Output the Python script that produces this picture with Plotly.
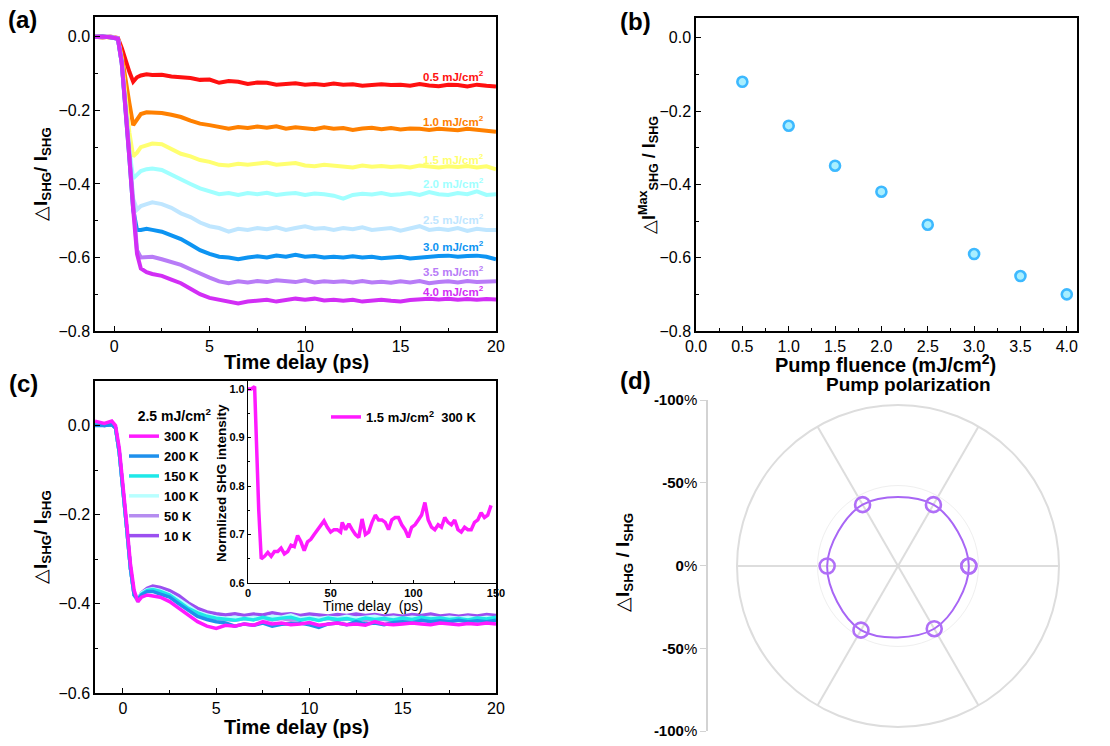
import plotly.graph_objects as go

W, H = 1110, 746
def px(x): return x / W
def py(y): return 1 - y / H

FONT = "Liberation Sans, Arial, sans-serif"

# ---------------- Panel (a) data ----------------
t_a = [-1.0, -0.6, -0.2, 0.2, 0.4, 0.6, 0.8, 1.0, 1.2, 1.4, 1.7,
       2.0, 2.5, 3.0, 3.5, 4.0, 4.5, 5.0, 5.5, 6.0, 6.5, 7.0, 7.5, 8.0, 8.5, 9.0, 9.5,
       10.0, 10.5, 11.0, 11.5, 12.0, 12.5, 13.0, 13.5, 14.0, 14.5, 15.0, 15.5, 16.0,
       16.5, 17.0, 17.5, 18.0, 18.5, 19.0, 19.5, 20.0]
f05 = [0.0, -0.002, 0.001, -0.003, -0.03, -0.065, -0.095, -0.122, -0.11, -0.105, -0.102,
       -0.104, -0.103, -0.108, -0.11, -0.112, -0.117, -0.116, -0.125, -0.12, -0.122, -0.128, -0.124,
       -0.125, -0.13, -0.127, -0.126, -0.13, -0.128, -0.131, -0.127, -0.13, -0.129, -0.133, -0.13,
       -0.129, -0.131, -0.13, -0.133, -0.128, -0.132, -0.134, -0.13, -0.131, -0.135, -0.13, -0.133, -0.135]
f10 = [0.0, 0.001, -0.002, -0.004, -0.05, -0.12, -0.18, -0.24, -0.225, -0.21, -0.205,
       -0.205, -0.207, -0.212, -0.218, -0.228, -0.236, -0.24, -0.245, -0.25, -0.245, -0.248, -0.244,
       -0.247, -0.243, -0.25, -0.246, -0.248, -0.251, -0.246, -0.25, -0.248, -0.253, -0.249, -0.247,
       -0.251, -0.248, -0.252, -0.249, -0.25, -0.253, -0.25, -0.251, -0.254, -0.25, -0.252, -0.255, -0.258]
f15 = [0.0, -0.001, 0.0, -0.004, -0.06, -0.16, -0.26, -0.325, -0.315, -0.3, -0.295,
       -0.29, -0.292, -0.305, -0.318, -0.325, -0.335, -0.34, -0.348, -0.35, -0.345, -0.348, -0.345,
       -0.342, -0.348, -0.345, -0.343, -0.35, -0.352, -0.348, -0.35, -0.352, -0.355, -0.35, -0.353,
       -0.351, -0.354, -0.352, -0.355, -0.35, -0.353, -0.355, -0.352, -0.354, -0.351, -0.355, -0.352, -0.36]
f20 = [0.0, 0.001, -0.001, -0.005, -0.07, -0.18, -0.31, -0.385, -0.375, -0.365, -0.36,
       -0.358, -0.362, -0.375, -0.39, -0.4, -0.412, -0.42, -0.428, -0.425, -0.43, -0.425, -0.428,
       -0.424, -0.43, -0.427, -0.425, -0.43, -0.426, -0.428, -0.432, -0.44, -0.43, -0.427, -0.429,
       -0.425, -0.43, -0.428, -0.425, -0.43, -0.422, -0.428, -0.43, -0.425, -0.428, -0.42, -0.43, -0.428]
f25 = [0.0, -0.001, 0.001, -0.005, -0.07, -0.19, -0.33, -0.44, -0.47, -0.46, -0.455,
       -0.45, -0.455, -0.465, -0.48, -0.49, -0.505, -0.515, -0.52, -0.53, -0.522, -0.525, -0.52,
       -0.523, -0.518, -0.525, -0.52, -0.515, -0.522, -0.52, -0.525, -0.52, -0.523, -0.518, -0.525,
       -0.522, -0.52, -0.527, -0.52, -0.515, -0.525, -0.522, -0.525, -0.52, -0.528, -0.522, -0.525, -0.525]
f30 = [0.0, 0.001, -0.001, -0.005, -0.07, -0.19, -0.33, -0.47, -0.525, -0.525, -0.522,
       -0.525, -0.53, -0.54, -0.55, -0.565, -0.58, -0.59, -0.598, -0.6, -0.605, -0.6, -0.597,
       -0.6, -0.595, -0.598, -0.593, -0.598, -0.596, -0.6, -0.598, -0.6, -0.597, -0.6, -0.598,
       -0.602, -0.6, -0.598, -0.603, -0.6, -0.598, -0.596, -0.595, -0.598, -0.596, -0.595, -0.598, -0.605]
f35 = [0.0, -0.001, 0.0, -0.005, -0.07, -0.19, -0.33, -0.47, -0.58, -0.6, -0.6,
       -0.598, -0.605, -0.612, -0.62, -0.632, -0.645, -0.655, -0.665, -0.67, -0.665, -0.668, -0.664,
       -0.667, -0.662, -0.665, -0.667, -0.662, -0.668, -0.665, -0.667, -0.665, -0.668, -0.664, -0.668,
       -0.666, -0.669, -0.665, -0.668, -0.664, -0.67, -0.667, -0.665, -0.668, -0.664, -0.667, -0.665, -0.665]
f40 = [0.0, 0.001, -0.001, -0.005, -0.07, -0.19, -0.33, -0.47, -0.59, -0.63, -0.64,
       -0.645, -0.65, -0.66, -0.67, -0.685, -0.7, -0.71, -0.715, -0.72, -0.725, -0.72, -0.718,
       -0.715, -0.72, -0.717, -0.712, -0.715, -0.712, -0.717, -0.715, -0.718, -0.715, -0.72, -0.717,
       -0.715, -0.718, -0.72, -0.716, -0.714, -0.712, -0.714, -0.712, -0.715, -0.713, -0.715, -0.713, -0.714]
fluence_labels = ["0.5", "1.0", "1.5", "2.0", "2.5", "3.0", "3.5", "4.0"]
fluence_curves = [f05, f10, f15, f20, f25, f30, f35, f40]
fluence_colors = ["#ff1010", "#ff8000", "#ffff70", "#a0ffff", "#bfe6ff", "#0d94f2", "#b87cf7", "#d22ef5"]
label_y = [-0.107, -0.229, -0.331, -0.397, -0.496, -0.570, -0.637, -0.692]

# ---------------- Panel (b) data ----------------
pump_fluence = [0.5, 1.0, 1.5, 2.0, 2.5, 3.0, 3.5, 4.0]
dI_max = [-0.12, -0.24, -0.349, -0.42, -0.51, -0.59, -0.65, -0.70]

# ---------------- Panel (c) data ----------------
t_c = [-1.5, -1.0, -0.6, -0.4, -0.2, 0.0, 0.2, 0.4, 0.6, 0.8, 1.0, 1.3, 1.6, 2.0,
       2.5, 3.0, 3.5, 4.0, 4.5, 5.0, 5.5, 6.0, 6.5, 7.0, 7.5, 8.0, 8.5, 9.0, 9.5, 10.0,
       10.5, 11.0, 11.5, 12.0, 12.5, 13.0, 13.5, 14.0, 14.5, 15.0, 15.5, 16.0, 16.5,
       17.0, 17.5, 18.0, 18.5, 19.0, 19.5, 20.0]
k300 = [0.01, 0.005, 0.01, 0.0, -0.05, -0.13, -0.22, -0.31, -0.37, -0.395, -0.385, -0.38, -0.382, -0.385,
        -0.395, -0.41, -0.425, -0.44, -0.45, -0.455, -0.448, -0.45, -0.445, -0.448, -0.44, -0.445,
        -0.443, -0.447, -0.445, -0.442, -0.448, -0.445, -0.443, -0.447, -0.445, -0.448, -0.44, -0.445,
        -0.447, -0.445, -0.443, -0.445, -0.447, -0.443, -0.445, -0.447, -0.444, -0.446, -0.443, -0.445]
k200 = [0.0, 0.0, 0.002, -0.005, -0.06, -0.14, -0.23, -0.32, -0.38, -0.39, -0.38, -0.372, -0.372, -0.378,
        -0.385, -0.4, -0.415, -0.428, -0.435, -0.44, -0.443, -0.45, -0.445, -0.448, -0.443, -0.45,
        -0.446, -0.445, -0.443, -0.447, -0.453, -0.445, -0.443, -0.447, -0.44, -0.445, -0.443, -0.447,
        -0.442, -0.44, -0.443, -0.437, -0.44, -0.438, -0.44, -0.437, -0.44, -0.438, -0.44, -0.437]
k150 = [0.005, 0.0, 0.003, -0.005, -0.06, -0.14, -0.23, -0.32, -0.38, -0.39, -0.378, -0.37, -0.368, -0.372,
        -0.38, -0.395, -0.41, -0.42, -0.428, -0.432, -0.435, -0.437, -0.433, -0.436, -0.43, -0.435,
        -0.432, -0.43, -0.436, -0.433, -0.437, -0.432, -0.435, -0.433, -0.437, -0.432, -0.435, -0.433,
        -0.436, -0.432, -0.435, -0.43, -0.434, -0.432, -0.435, -0.433, -0.436, -0.432, -0.434, -0.43]
k100 = [0.005, 0.002, 0.004, -0.004, -0.06, -0.14, -0.23, -0.32, -0.38, -0.39, -0.375, -0.368, -0.366, -0.37,
        -0.378, -0.39, -0.405, -0.418, -0.425, -0.43, -0.432, -0.43, -0.433, -0.43, -0.432, -0.428,
        -0.43, -0.425, -0.432, -0.43, -0.433, -0.43, -0.432, -0.428, -0.432, -0.43, -0.428, -0.432,
        -0.43, -0.433, -0.43, -0.432, -0.43, -0.433, -0.43, -0.432, -0.43, -0.433, -0.43, -0.432]
k50 = [0.005, 0.0, 0.003, -0.005, -0.06, -0.14, -0.23, -0.32, -0.38, -0.395, -0.38, -0.37, -0.367, -0.372,
       -0.38, -0.395, -0.41, -0.422, -0.43, -0.433, -0.435, -0.437, -0.433, -0.435, -0.432, -0.436,
       -0.433, -0.437, -0.434, -0.432, -0.436, -0.433, -0.437, -0.434, -0.432, -0.437, -0.433, -0.435,
       -0.438, -0.435, -0.44, -0.436, -0.433, -0.436, -0.434, -0.437, -0.433, -0.436, -0.434, -0.435]
k10 = [0.005, 0.0, 0.002, -0.005, -0.06, -0.14, -0.23, -0.32, -0.38, -0.39, -0.375, -0.365, -0.36, -0.363,
       -0.37, -0.382, -0.398, -0.41, -0.418, -0.422, -0.425, -0.422, -0.426, -0.423, -0.425, -0.42,
       -0.424, -0.422, -0.426, -0.423, -0.425, -0.427, -0.424, -0.426, -0.423, -0.426, -0.424, -0.427,
       -0.425, -0.428, -0.424, -0.426, -0.423, -0.427, -0.425, -0.428, -0.425, -0.427, -0.424, -0.426]
temp_labels = ["10 K", "50 K", "100 K", "150 K", "200 K", "300 K"]
temp_curves = [k10, k50, k100, k150, k200, k300]
temp_colors = ["#9b4ff0", "#b58cf0", "#b8ffff", "#1ee8e8", "#1e90ec", "#ff1aff"]

# ---------------- Inset data ----------------
t_in = [0, 2, 4, 5, 6.5, 8, 10, 12, 14, 16, 18, 20, 22, 24, 26, 28, 30, 32, 34, 36, 38, 40,
        42, 44, 46, 48, 50, 52, 54, 56, 57, 59, 61, 63, 65, 67, 69, 71, 73, 75, 77, 79, 81,
        83, 85, 87, 89, 91, 93, 95, 97, 99, 101, 103, 105, 107, 109, 111, 113, 115, 117,
        119, 121, 123, 125, 127, 129, 131, 133, 135, 137, 139, 141, 143, 145, 147]
shg_in = [1.0, 1.0, 1.005, 0.9, 0.75, 0.65, 0.655, 0.663, 0.655, 0.665, 0.665, 0.672, 0.66,
          0.665, 0.678, 0.675, 0.698, 0.685, 0.667, 0.685, 0.69, 0.70, 0.71, 0.72, 0.728,
          0.715, 0.705, 0.71, 0.71, 0.705, 0.725, 0.71, 0.722, 0.71, 0.70, 0.694, 0.732,
          0.70, 0.705, 0.725, 0.74, 0.73, 0.73, 0.725, 0.71, 0.73, 0.735, 0.735, 0.72, 0.71,
          0.694, 0.715, 0.72, 0.73, 0.74, 0.766, 0.73, 0.715, 0.71, 0.72, 0.715, 0.735, 0.725,
          0.72, 0.73, 0.71, 0.705, 0.715, 0.71, 0.71, 0.725, 0.73, 0.745, 0.735, 0.74, 0.76]

# ---------------- Panel (d) data ----------------
pol_angle = [0, 60, 120, 180, 240, 300, 0]
pol_dI = [0.44, 0.44, 0.44, 0.44, 0.46, 0.45, 0.44]
pol_ticks = [1, 0.5, 0, -0.5, -1]
pol_ticktext = ["-100", "-50", "0", "-50", "-100"]

fig = go.Figure()

# (a)
for lab, ys, c in zip(fluence_labels, fluence_curves, fluence_colors):
    fig.add_trace(go.Scatter(x=t_a, y=ys, mode="lines", line=dict(color=c, width=4),
                             xaxis="x", yaxis="y", showlegend=False))
# (b)
fig.add_trace(go.Scatter(x=pump_fluence, y=dI_max, mode="markers",
                         marker=dict(size=10, color="#a8efff", line=dict(color="#3db9ff", width=2.6)),
                         xaxis="x2", yaxis="y2", showlegend=False))
# (c)
for lab, ys, c in zip(temp_labels, temp_curves, temp_colors):
    fig.add_trace(go.Scatter(x=t_c, y=ys, mode="lines", line=dict(color=c, width=3.5),
                             name="<b>%s</b>" % lab, xaxis="x3", yaxis="y3", legend="legend"))
# inset
fig.add_trace(go.Scatter(x=t_in, y=shg_in, mode="lines", line=dict(color="#ff1aff", width=3.5),
                         name="<b>1.5 mJ/cm<sup>2</sup>  300 K</b>", xaxis="x4", yaxis="y4",
                         legend="legend2"))
# (d)
fig.add_trace(go.Scatterpolar(r=pol_dI, theta=pol_angle, mode="lines+markers",
                              line=dict(color="#a866f5", width=2, shape="spline"),
                              marker=dict(symbol="circle-open", size=15, color="#b06ff7",
                                          line=dict(width=2.6, color="#b06ff7")),
                              showlegend=False))
# anchor trace so the (d) side scale is drawn
fig.add_trace(go.Scatter(x=[0.5], y=[0], mode="markers", marker=dict(opacity=0),
                         xaxis="x5", yaxis="y5", showlegend=False, hoverinfo="skip"))

axis_common = dict(showline=True, linecolor="black", linewidth=1.5, mirror=True,
                   ticks="inside", ticklen=5, tickwidth=1.2, tickcolor="black",
                   showgrid=False, zeroline=False, automargin=False,
                   tickfont=dict(family=FONT, size=16, color="black"))

fig.update_layout(
    width=W, height=H, autosize=False,
    margin=dict(l=0, r=0, t=0, b=0, autoexpand=False),
    paper_bgcolor="white", plot_bgcolor="white",
    font=dict(family=FONT, color="black"),
    xaxis=dict(domain=[px(95), px(496)], range=[-1, 20], tick0=0, dtick=5, anchor="y",
               minor=dict(ticks="inside", ticklen=3, dtick=2.5, tickcolor="black"), **axis_common),
    yaxis=dict(domain=[py(331), py(17)], range=[-0.8, 0.054], dtick=0.2, tickformat=".1f", anchor="x",
               minor=dict(ticks="inside", ticklen=3, dtick=0.1, tickcolor="black"), **axis_common),
    xaxis2=dict(domain=[px(696), px(1077)], range=[0, 4.11], dtick=0.5, tickformat=".1f", anchor="y2",
                minor=dict(ticks="inside", ticklen=3, dtick=0.25, tickcolor="black"), **axis_common),
    yaxis2=dict(domain=[py(331), py(18)], range=[-0.8, 0.054], dtick=0.2, tickformat=".1f", anchor="x2",
                minor=dict(ticks="inside", ticklen=3, dtick=0.1, tickcolor="black"), **axis_common),
    xaxis3=dict(domain=[px(95), px(496)], range=[-1.5, 20], tick0=0, dtick=5, anchor="y3",
                minor=dict(ticks="inside", ticklen=3, dtick=2.5, tickcolor="black"), **axis_common),
    yaxis3=dict(domain=[py(693), py(381)], range=[-0.6, 0.1], dtick=0.2, tickformat=".1f", anchor="x3",
                minor=dict(ticks="inside", ticklen=3, dtick=0.1, tickcolor="black"), **axis_common),
    xaxis4=dict(domain=[px(248), px(496)], range=[0, 150], dtick=50, anchor="y4",
                showline=True, linecolor="black", linewidth=1.2, mirror=True, automargin=False,
                ticks="inside", ticklen=3, tickcolor="black", showgrid=False, zeroline=False,
                minor=dict(ticks="inside", ticklen=2, dtick=25, tickcolor="black"),
                tickfont=dict(family=FONT, size=11, color="black", weight="bold")),
    yaxis4=dict(domain=[py(583), py(381)], range=[0.6, 1.0165], dtick=0.1, tickformat=".1f", anchor="x4",
                showline=True, linecolor="black", linewidth=1.2, mirror=True, automargin=False,
                ticks="inside", ticklen=3, tickcolor="black", showgrid=False, zeroline=False,
                minor=dict(ticks="inside", ticklen=2, dtick=0.05, tickcolor="black"),
                tickfont=dict(family=FONT, size=11, color="black", weight="bold")),
    xaxis5=dict(domain=[px(708), px(720)], visible=False, range=[0, 1], anchor="y5", automargin=False),
    yaxis5=dict(domain=[py(731), py(400)], range=[-1, 1], anchor="x5", automargin=False,
                tickvals=pol_ticks, ticktext=["<b>%s</b>%%" % s for s in pol_ticktext],
                showline=True, linecolor="#d3d3d3", linewidth=1.5, ticks="outside",
                ticklen=6, tickcolor="#d3d3d3", showgrid=False, zeroline=False,
                tickfont=dict(family=FONT, size=15, color="black")),
    polar=dict(domain=dict(x=[px(737), px(1059)], y=[py(729), py(403)]), bgcolor="white",
               radialaxis=dict(range=[0, 1], tickvals=[0.5], showticklabels=False, ticks="",
                               showline=False, gridcolor="#efefef", gridwidth=1),
               angularaxis=dict(tickvals=[0, 60, 120, 180, 240, 300], showticklabels=False, ticks="",
                                gridcolor="#dddddd", gridwidth=2, showline=True,
                                linecolor="#dddddd", linewidth=2)),
    legend=dict(x=px(124), y=py(403), xanchor="left", yanchor="top", bgcolor="rgba(0,0,0,0)",
                traceorder="reversed", tracegroupgap=0, itemwidth=30,
                font=dict(family=FONT, size=13, color="black"),
                title=dict(text="<b>   2.5 mJ/cm<sup>2</sup></b>", font=dict(family=FONT, size=14))),
    legend2=dict(x=px(326), y=py(402), xanchor="left", yanchor="top", bgcolor="rgba(0,0,0,0)",
                 itemwidth=30, font=dict(family=FONT, size=13, color="black")),
)

ann = []
def add_text(x, y, text, size, angle=0, color="black"):
    ann.append(dict(x=px(x), y=py(y), xref="paper", yref="paper", text=text, showarrow=False,
                    textangle=angle, xanchor="center", yanchor="middle",
                    font=dict(family=FONT, size=size, color=color)))

# panel labels
add_text(22, 19, "<b>(a)</b>", 24)
add_text(635, 21, "<b>(b)</b>", 24)
add_text(23, 383, "<b>(c)</b>", 24)
add_text(635, 380, "<b>(d)</b>", 24)
# axis titles
add_text(296, 362, "<b>Time delay (ps)</b>", 20)
add_text(42, 174, "△<b>I<sub>SHG</sub>/ I<sub>SHG</sub></b>", 19, -90)
add_text(885, 363, "<b>Pump fluence (mJ/cm<sup>2</sup>)</b>", 20)
add_text(648, 175, "△<b>I<sup>Max</sup><sub>SHG</sub> / I<sub>SHG</sub></b>", 18, -90)
add_text(296, 727, "<b>Time delay (ps)</b>", 20)
add_text(42, 537, "△<b>I<sub>SHG</sub>/ I<sub>SHG</sub></b>", 19, -90)
add_text(373, 606, "Time delay  (ps)", 14)
add_text(221, 483, "<b>Normlized SHG intensity</b>", 13.5, -90)
add_text(908, 384, "<b>Pump polarization</b>", 19)
add_text(624, 563, "△<b>I<sub>SHG</sub> / I<sub>SHG</sub></b>", 19, -90)

fig.update_layout(annotations=ann)
# fluence labels in (a), positioned in data coordinates
for lab, ly, c in zip(fluence_labels, label_y, fluence_colors):
    fig.add_annotation(x=17.75, y=ly, xref="x", yref="y", showarrow=False,
                       text="<b>%s mJ/cm<sup>2</sup></b>" % lab,
                       font=dict(family=FONT, size=11.5, color=c))

# remove the default page margin so the figure fills the window exactly
fig.write_html("out.html", config={"displayModeBar": False},
               post_script="document.body.style.margin='0';")
